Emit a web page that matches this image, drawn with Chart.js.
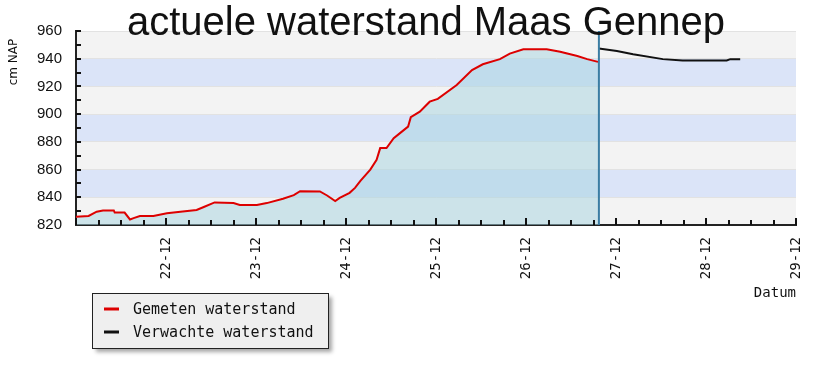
<!DOCTYPE html>
<html>
<head>
<meta charset="utf-8">
<script src="https://cdn.jsdelivr.net/npm/chart.js@4.4.1/dist/chart.umd.min.js"></script>
<style>
  body { margin: 0; background: #fff; }
</style>
</head>
<body>
<canvas id="myChart" width="825" height="375"></canvas>
<script>
// gemeten waterstand: dag in december (decimaal) en cm NAP
let measuredDays = [
  21.00, 21.14, 21.23, 21.30, 21.42, 21.43, 21.54, 21.60, 21.64, 21.71,
  21.86, 22.01, 22.16, 22.34, 22.42, 22.54, 22.75, 22.82, 23.01, 23.12,
  23.30, 23.42, 23.49, 23.71, 23.79, 23.88, 23.93, 24.04, 24.10, 24.16,
  24.27, 24.34, 24.38, 24.45, 24.53, 24.60, 24.69, 24.72, 24.82, 24.93,
  25.02, 25.23, 25.40, 25.52, 25.71, 25.82, 25.97, 26.23, 26.38, 26.57,
  26.68, 26.80
];
let measuredLevels = [
  826, 826.5, 829.6, 830.5, 830.5, 829, 829, 824, 825, 826.5,
  826.5, 828.4, 829.6, 830.8, 833, 836.3, 835.8, 834.4, 834.4, 835.8,
  839, 841.5, 844.4, 844.2, 841.3, 837.3, 839.6, 843.2, 846.8, 851.8,
  860, 867, 875.5, 875.5, 882.7, 886.3, 891, 897.8, 901.8, 909,
  911, 921, 931.8, 936, 939.7, 943.7, 946.8, 946.8, 945, 942,
  939.7, 937.7
];
// verwachte waterstand
let forecastDays = [26.81, 27.01, 27.19, 27.52, 27.74, 28.23, 28.27, 28.38];
let forecastLevels = [947.3, 945.6, 943.2, 939.7, 938.7, 938.7, 939.7, 939.7];

let dayLabels = ["", "22-12", "23-12", "24-12", "25-12", "26-12", "27-12", "28-12", "29-12"];
let seriesNames = ["Gemeten waterstand", "Verwachte waterstand"];
let nowDay = 26.81;

const monoFont = '"DejaVu Sans Mono", "Liberation Mono", monospace';

// alternating background rows
const bandsPlugin = {
  id: "bands",
  beforeDraw(chart) {
    const {ctx, chartArea, scales: {y}} = chart;
    ctx.save();
    for (let v = 820; v < 960; v += 20) {
      const top = y.getPixelForValue(v + 20);
      const bottom = y.getPixelForValue(v);
      ctx.fillStyle = ((v - 820) / 20) % 2 === 0 ? "#f3f3f3" : "#dbe4f8";
      ctx.fillRect(chartArea.left, top, chartArea.right - chartArea.left, bottom - top);
    }
    ctx.restore();
  }
};

// inward tick marks and the "now" line
const marksPlugin = {
  id: "marks",
  afterDatasetsDraw(chart) {
    const {ctx, chartArea, scales: {x, y}} = chart;
    ctx.save();
    const nx = x.getPixelForValue(nowDay);
    ctx.strokeStyle = "#3b7da3";
    ctx.lineWidth = 2;
    ctx.beginPath();
    ctx.moveTo(nx, chartArea.top);
    ctx.lineTo(nx, chartArea.bottom);
    ctx.stroke();

    ctx.strokeStyle = "#111";
    ctx.lineWidth = 2;
    for (let d = 21; d <= 29.001; d += 0.25) {
      const px = Math.round(x.getPixelForValue(d));
      const len = Math.abs(d - Math.round(d)) < 0.01 ? 7 : 5;
      ctx.beginPath();
      ctx.moveTo(px, chartArea.bottom);
      ctx.lineTo(px, chartArea.bottom - len);
      ctx.stroke();
    }
    for (let v = 830; v <= 960; v += 10) {
      const py = Math.round(y.getPixelForValue(v));
      ctx.beginPath();
      ctx.moveTo(chartArea.left, py);
      ctx.lineTo(chartArea.left + 5, py);
      ctx.stroke();
    }
    ctx.restore();
  }
};

// title, unit label and boxed legend
const textPlugin = {
  id: "texts",
  afterDraw(chart) {
    const ctx = chart.ctx;
    ctx.save();
    ctx.fillStyle = "#111";
    ctx.font = '40px "Liberation Sans", Arial, sans-serif';
    ctx.textAlign = "center";
    ctx.textBaseline = "alphabetic";
    ctx.fillText("actuele waterstand Maas Gennep", 426, 35);

    ctx.save();
    ctx.translate(14, 62);
    ctx.rotate(-Math.PI / 2);
    ctx.font = '12px "DejaVu Sans", sans-serif';
    ctx.textBaseline = "middle";
    ctx.fillText("cm NAP", 0, 0);
    ctx.restore();

    // legend box
    ctx.save();
    ctx.shadowColor = "rgba(0,0,0,0.35)";
    ctx.shadowOffsetX = 4;
    ctx.shadowOffsetY = 4;
    ctx.shadowBlur = 4;
    ctx.fillStyle = "#efefef";
    ctx.fillRect(92, 293, 236, 55);
    ctx.restore();
    ctx.strokeStyle = "#222";
    ctx.lineWidth = 1;
    ctx.strokeRect(92.5, 293.5, 236, 55);

    ctx.font = "15px " + monoFont;
    ctx.textAlign = "left";
    ctx.textBaseline = "middle";
    chart.data.datasets.forEach((ds, i) => {
      const ly = 309 + i * 23;
      ctx.strokeStyle = ds.borderColor;
      ctx.lineWidth = 3;
      ctx.beginPath();
      ctx.moveTo(104, ly);
      ctx.lineTo(119, ly);
      ctx.stroke();
      ctx.fillStyle = "#111";
      ctx.fillText(ds.label, 133, ly + 1);
    });
    ctx.restore();
  }
};

const toPoints = (days, levels) => days.map((d, i) => ({x: d, y: levels[i]}));

const config = {
  type: "line",
  data: {
    datasets: [
      {
        label: seriesNames[0],
        data: toPoints(measuredDays, measuredLevels),
        borderColor: "#dd0000",
        borderWidth: 2,
        backgroundColor: "rgba(165, 212, 224, 0.5)",
        fill: "start",
        pointRadius: 0,
        tension: 0,
      },
      {
        label: seriesNames[1],
        data: toPoints(forecastDays, forecastLevels),
        borderColor: "#111111",
        borderWidth: 2,
        fill: false,
        pointRadius: 0,
        tension: 0,
      },
    ],
  },
  options: {
    responsive: false,
    animation: false,
    layout: { padding: { top: 31, right: 29, left: 0, bottom: 0 } },
    plugins: {
      legend: { display: false },
      title: { display: false },
      tooltip: { enabled: false },
    },
    scales: {
      x: {
        type: "linear",
        min: 21,
        max: 29,
        afterFit: (scale) => { scale.height = 150; },
        grid: { display: false, drawTicks: false },
        border: { display: true, color: "#222", width: 2 },
        ticks: {
          stepSize: 1,
          autoSkip: false,
          minRotation: 90,
          maxRotation: 90,
          padding: 12,
          color: "#111",
          font: { family: monoFont, size: 14 },
          callback: (v, i) => dayLabels[i],
        },
        title: {
          display: true,
          text: "Datum",
          align: "end",
          color: "#111",
          font: { family: monoFont, size: 14 },
          padding: { top: 0, bottom: 73 },
        },
      },
      y: {
        min: 820,
        max: 960,
        afterFit: (scale) => { scale.width = 76; },
        grid: { color: "#e2e2e2", drawTicks: false },
        border: { display: true, color: "#222", width: 2 },
        ticks: {
          stepSize: 20,
          padding: 14,
          color: "#111",
          font: { family: '"Liberation Sans", Arial, sans-serif', size: 15 },
        },
      },
    },
  },
  plugins: [bandsPlugin, marksPlugin, textPlugin],
};

const myChart = new Chart(document.getElementById("myChart"), config);
</script>
</body>
</html>
